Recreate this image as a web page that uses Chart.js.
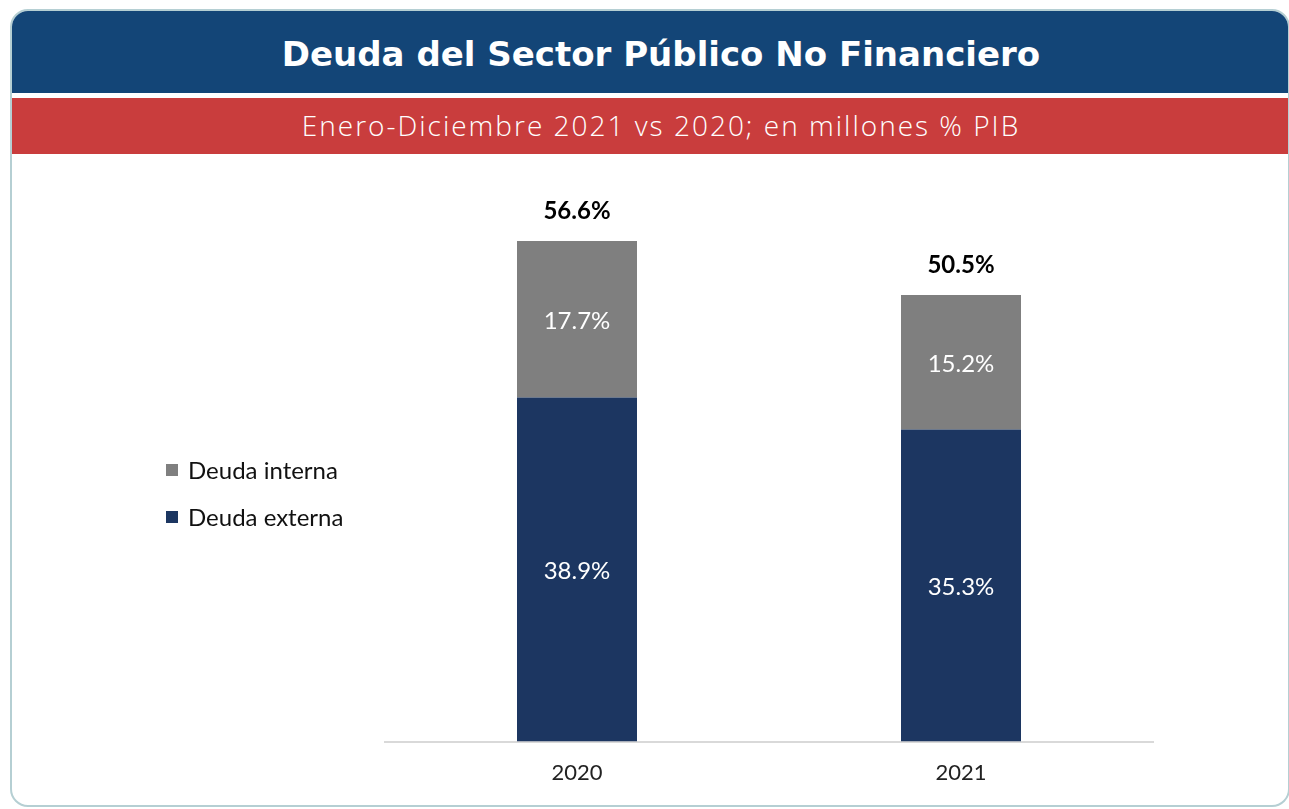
<!DOCTYPE html>
<html>
<head>
<meta charset="utf-8">
<script src="https://cdn.jsdelivr.net/npm/chart.js@4"></script>
<style>
  html, body { margin: 0; padding: 0; background: #fff; }
  body { width: 1289px; height: 809px; overflow: hidden; position: relative; font-family: Lato, "Noto Sans", sans-serif; }
  .card {
    position: absolute; left: 10px; top: 9px; width: 1280px; height: 798px;
    border: 2px solid #b5cfd3; border-radius: 18px; overflow: hidden; box-sizing: border-box;
  }
  .head {
    position: absolute; left: 0; top: 0; right: 0; height: 82px; background: #134577;
    color: #fff; font-family: "DejaVu Sans", sans-serif; font-weight: bold; font-size: 34px;
    text-align: center; line-height: 86px; padding-left: 22px;
  }
  .sub {
    position: absolute; left: 0; top: 87px; right: 0; height: 56px; background: #c93d3d;
    color: #fff; font-family: "Open Sans", sans-serif; font-weight: 300; font-size: 28px;
    letter-spacing: 2px; text-align: center; line-height: 54px; padding-left: 22px;
  }
  #wrap { position: absolute; left: 14px; top: 155px; width: 1270px; height: 649px; }
</style>
</head>
<body>
<div class="card">
  <div class="head">Deuda del Sector Público No Financiero</div>
  <div class="sub">Enero-Diciembre 2021 vs 2020; en millones % PIB</div>
</div>
<div id="wrap"><canvas id="chart"></canvas></div>
<script>
// data
const years = ['2020', '2021'];
const deudaExterna = [38.9, 35.3];
const deudaInterna = [17.7, 15.2];
const totales = [56.6, 50.5];

const ctx = document.getElementById('chart');

// labels inside segments and totals above bars
const barLabels = {
  id: 'barLabels',
  afterDatasetsDraw(chart) {
    const c = chart.ctx;
    c.save();
    c.textAlign = 'center';
    c.textBaseline = 'middle';
    chart.data.datasets.forEach((ds, i) => {
      chart.getDatasetMeta(i).data.forEach((bar, j) => {
        c.fillStyle = '#ffffff';
        c.font = '24px Lato';
        c.fillText(ds.data[j].toFixed(1) + '%', bar.x, (bar.y + bar.base) / 2 + 2);
      });
    });
    const top = chart.getDatasetMeta(1).data;
    c.fillStyle = '#000000';
    c.font = 'bold 24px Lato';
    top.forEach((bar, j) => {
      c.fillText(totales[j].toFixed(1) + '%', bar.x, bar.y - 30);
    });
    c.restore();
  }
};

// legend drawn on the left, interna above externa
const sideLegend = {
  id: 'sideLegend',
  afterDraw(chart) {
    const c = chart.ctx;
    c.save();
    c.font = '24px Lato';
    c.textBaseline = 'middle';
    const items = [chart.data.datasets[1], chart.data.datasets[0]];
    items.forEach((ds, i) => {
      const y = 315 + i * 47;
      c.fillStyle = ds.backgroundColor;
      c.fillRect(152, y - 6, 12, 12);
      c.fillStyle = '#111111';
      c.fillText(ds.label, 174, y + 1);
    });
    c.restore();
  }
};

new Chart(ctx, {
  type: 'bar',
  data: {
    labels: years,
    datasets: [
      { label: 'Deuda externa', data: deudaExterna, backgroundColor: '#1c3661', barPercentage: 0.3125, categoryPercentage: 1 },
      { label: 'Deuda interna', data: deudaInterna, backgroundColor: '#7f7f7f', barPercentage: 0.3125, categoryPercentage: 1 }
    ]
  },
  options: {
    responsive: true,
    maintainAspectRatio: false,
    animation: false,
    layout: { padding: { left: 371, right: 131, top: 56, bottom: 0 } },
    plugins: { legend: { display: false }, tooltip: { enabled: false } },
    scales: {
      x: {
        stacked: true,
        grid: { display: false, drawTicks: false },
        border: { display: true, color: '#d9d9d9', width: 2 },
        ticks: { color: '#222222', font: { family: 'Lato', size: 22 }, padding: 18 }
      },
      y: { stacked: true, display: false, min: 0, max: 60 }
    }
  },
  plugins: [barLabels, sideLegend]
});
</script>
</body>
</html>
